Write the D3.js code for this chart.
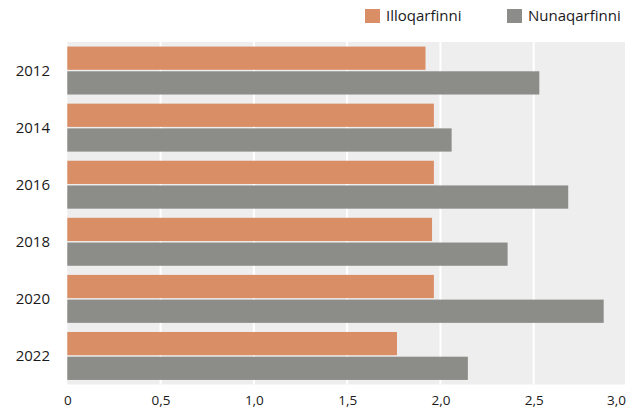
<!DOCTYPE html>
<html>
<head>
<meta charset="utf-8">
<script src="https://cdn.jsdelivr.net/npm/d3@7"></script>
<style>
  html, body { margin: 0; padding: 0; background: #fff; }
  svg { display: block; font-family: "Open Sans", "Noto Sans", sans-serif; }
</style>
</head>
<body>
<svg id="chart" width="634" height="408"></svg>
<script>
const years = ["2012", "2014", "2016", "2018", "2020", "2022"];
const seriesNames = ["Illoqarfinni", "Nunaqarfinni"];
const illoqarfinni = [1.92, 1.965, 1.965, 1.955, 1.965, 1.767];
const nunaqarfinni = [2.53, 2.06, 2.685, 2.36, 2.875, 2.147];
const tickValues = [0, 0.5, 1.0, 1.5, 2.0, 2.5, 3.0];
const tickLabels = ["0", "0,5", "1,0", "1,5", "2,0", "2,5", "3,0"];
const colors = ["#d98e66", "#8c8d89"];

const svg = d3.select("#chart");
const plot = { left: 67.3, right: 625, top: 42, bottom: 384.5 };

const x = d3.scaleLinear().domain([0, 3]).range([67.3, 627]);
const y0 = d3.scaleBand().domain(years).range([plot.top, plot.bottom])
  .paddingInner(0.16).paddingOuter(0.08);
const y1 = d3.scaleBand().domain(seriesNames).range([0, y0.bandwidth()]).paddingInner(0.06);

// background
svg.append("rect")
  .attr("x", plot.left).attr("y", plot.top)
  .attr("width", plot.right - plot.left).attr("height", plot.bottom - plot.top)
  .attr("fill", "#eeeeee");

// gridlines
svg.append("g").selectAll("line")
  .data(tickValues.filter(v => v > 0 && v < 3))
  .join("line")
  .attr("x1", d => x(d)).attr("x2", d => x(d))
  .attr("y1", plot.top).attr("y2", plot.bottom)
  .attr("stroke", "#ffffff").attr("stroke-width", 2);

// bars
const data = years.map((yr, i) => ({ year: yr, values: [illoqarfinni[i], nunaqarfinni[i]] }));
const groups = svg.append("g").selectAll("g")
  .data(data).join("g")
  .attr("transform", d => `translate(0,${y0(d.year)})`);
groups.selectAll("rect")
  .data(d => d.values.map((v, j) => ({ name: seriesNames[j], value: v, j })))
  .join("rect")
  .attr("x", x(0))
  .attr("y", d => y1(d.name))
  .attr("width", d => x(d.value) - x(0))
  .attr("height", y1.bandwidth())
  .attr("fill", d => colors[d.j]);

// x axis labels
const xAxis = d3.axisBottom(x).tickValues(tickValues)
  .tickFormat((d, i) => tickLabels[i]).tickSize(0).tickPadding(0);
const gx = svg.append("g").attr("transform", `translate(0,${plot.bottom + 11})`).call(xAxis);
gx.select(".domain").remove();
gx.selectAll("text").attr("font-size", 13.5).attr("fill", "#1a1a1a")
  .attr("font-family", "'Open Sans', sans-serif");
// last label sits inside the right edge, as in the reference
gx.selectAll(".tick").filter(d => d === 3).select("text")
  .attr("text-anchor", "end").attr("x", plot.right - x(3) + 0.5);

// y axis labels
const yAxis = d3.axisLeft(y0).tickSize(0).tickPadding(0);
const gy = svg.append("g").attr("transform", `translate(50,0.5)`).call(yAxis);
gy.select(".domain").remove();
gy.selectAll("text").attr("font-size", 15).attr("fill", "#1a1a1a")
  .attr("font-family", "'Open Sans', sans-serif");

// legend
const legendX = [365, 507];
const legend = svg.append("g").selectAll("g")
  .data(seriesNames).join("g")
  .attr("transform", (d, i) => `translate(${legendX[i]},9)`);
legend.append("rect").attr("width", 15).attr("height", 14).attr("fill", (d, i) => colors[i]);
legend.append("text").attr("x", 21).attr("y", 7).attr("dy", "0.35em")
  .attr("font-size", 15).attr("fill", "#1a1a1a").text(d => d);
</script>
</body>
</html>
